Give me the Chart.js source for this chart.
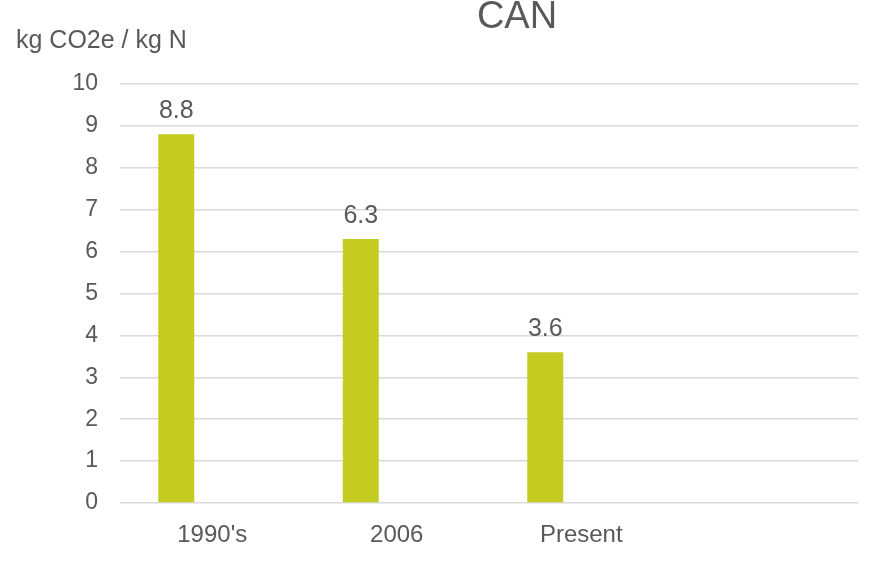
<!DOCTYPE html>
<html>
<head>
<meta charset="utf-8">
<script src="https://cdn.jsdelivr.net/npm/chart.js@4/dist/chart.umd.min.js"></script>
<style>
html,body{margin:0;padding:0;background:#fff;}
#wrap{width:894px;height:563px;}
</style>
</head>
<body>
<div id="wrap"><canvas id="c" width="894" height="563"></canvas></div>
<script>
const categories = ["1990's", "2006", "Present", ""];
const canValues = [8.8, 6.3, 3.6, null];
const emptySeries = [null, null, null, null];
const yTicks = [0, 1, 2, 3, 4, 5, 6, 7, 8, 9, 10];
const chartTitle = "CAN";
const yAxisTitle = "kg CO2e / kg N";

const textColor = '#595959';
const fontFamily = '"Liberation Sans", Arial, sans-serif';

const overlay = {
  id: 'overlay',
  afterDatasetsDraw(chart) {
    const ctx = chart.ctx;
    ctx.save();
    ctx.fillStyle = textColor;
    // data labels
    ctx.font = '25px ' + fontFamily;
    ctx.textAlign = 'center';
    ctx.textBaseline = 'alphabetic';
    const meta = chart.getDatasetMeta(0);
    meta.data.forEach((bar, i) => {
      const v = canValues[i];
      if (v === null || v === undefined) return;
      ctx.fillText(v.toFixed(1), bar.x, bar.y - 16);
    });
    // chart title
    ctx.font = '38px ' + fontFamily;
    ctx.fillText(chartTitle, 517, 28);
    // y axis title
    ctx.font = '25px ' + fontFamily;
    ctx.textAlign = 'left';
    ctx.fillText(yAxisTitle, 16, 48);
    ctx.restore();
  }
};

new Chart(document.getElementById('c'), {
  type: 'bar',
  data: {
    labels: categories,
    datasets: [
      { label: 'CAN', data: canValues, backgroundColor: '#c4cc22', categoryPercentage: 0.78, barPercentage: 0.5 },
      { label: 'other', data: emptySeries, backgroundColor: '#c4cc22', categoryPercentage: 0.78, barPercentage: 0.5 }
    ]
  },
  options: {
    responsive: false,
    animation: false,
    layout: { padding: { left: 0, right: 36, top: 84, bottom: 0 } },
    plugins: { legend: { display: false }, title: { display: false }, tooltip: { enabled: false } },
    scales: {
      x: {
        grid: { display: false },
        border: { display: false },
        ticks: { color: textColor, font: { family: fontFamily, size: 24 }, padding: 10, maxRotation: 0 },
        afterFit(scale) { scale.height = 60; }
      },
      y: {
        min: 0, max: 10,
        afterBuildTicks(scale) { scale.ticks = yTicks.map(v => ({ value: v })); },
        grid: { color: '#d9d9d9', lineWidth: 1.5, drawTicks: false },
        border: { display: false },
        ticks: { color: textColor, font: { family: fontFamily, size: 23 }, padding: 22 },
        afterFit(scale) { scale.width = 120; }
      }
    }
  },
  plugins: [overlay]
});
</script>
</body>
</html>
